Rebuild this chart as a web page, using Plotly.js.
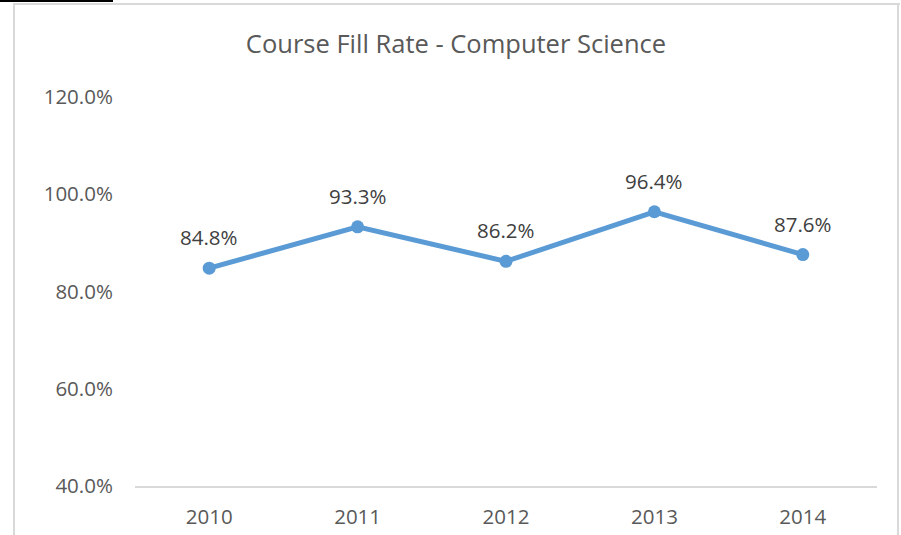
<!DOCTYPE html>
<html>
<head>
<meta charset="utf-8">
<script src="https://cdn.plot.ly/plotly-3.0.1.min.js"></script>
<style>
  html, body { margin: 0; padding: 0; background: #fff; }
  #wrap { position: relative; width: 901px; height: 535px; overflow: hidden; }
  #chart { position: absolute; left: 0; top: 0; width: 901px; height: 535px; }
  .ln { position: absolute; }
</style>
</head>
<body>
<div id="wrap">
  <div id="chart"></div>
  <div class="ln" style="left:0;top:0;width:113px;height:2px;background:#000;"></div>
  <div class="ln" style="left:13px;top:3px;width:2px;height:540px;background:#d9d9d9;"></div>
  <div class="ln" style="left:13px;top:3px;width:887px;height:2px;background:#d9d9d9;"></div>
  <div class="ln" style="left:897px;top:3px;width:2px;height:540px;background:#d9d9d9;"></div>
</div>
<script>
const years = ['2010', '2011', '2012', '2013', '2014'];
const fillRate = [84.8, 93.3, 86.2, 96.4, 87.6];
const yTicks = [40, 60, 80, 100, 120];
const yTickLabels = ['40.0%', '60.0%', '80.0%', '100.0%', '120.0%'];
const labels = fillRate.map(v => v.toFixed(1) + '%');

const FONT = '"Open Sans", Lato, sans-serif';

const trace = {
  x: years,
  y: fillRate,
  type: 'scatter',
  mode: 'lines+markers',
  line: { color: '#5b9bd5', width: 5 },
  marker: { color: '#5b9bd5', size: 13 },
  hoverinfo: 'none'
};

const annotations = years.map((yr, i) => ({
  x: i, y: fillRate[i], xref: 'x', yref: 'y',
  text: labels[i], showarrow: false, yshift: 31,
  font: { family: FONT, size: 20.5, color: '#404040' }
}));

const layout = {
  width: 901, height: 535,
  margin: { l: 135, r: 24, t: 97, b: 49 },
  paper_bgcolor: 'rgba(0,0,0,0)',
  plot_bgcolor: 'rgba(0,0,0,0)',
  showlegend: false,
  title: {
    text: 'Course Fill Rate - Computer Science',
    font: { family: FONT, size: 25.5, color: '#595959' },
    x: 456 / 901, xref: 'container', xanchor: 'center',
    y: 1 - 44 / 535, yref: 'container', yanchor: 'middle'
  },
  xaxis: {
    type: 'category',
    range: [-0.5, 4.5],
    showgrid: false, zeroline: false,
    showline: true, linecolor: '#d9d9d9', linewidth: 1.5,
    ticks: 'outside', ticklen: 12, tickcolor: 'rgba(0,0,0,0)',
    tickfont: { family: FONT, size: 20.5, color: '#595959' },
    fixedrange: true
  },
  yaxis: {
    range: [40, 120],
    tickvals: yTicks, ticktext: yTickLabels,
    showgrid: false, zeroline: false, showline: false,
    ticks: 'outside', ticklen: 17, tickcolor: 'rgba(0,0,0,0)',
    tickfont: { family: FONT, size: 20.5, color: '#595959' },
    fixedrange: true
  },
  annotations: annotations
};

Plotly.newPlot('chart', [trace], layout, { displayModeBar: false, staticPlot: true });
</script>
</body>
</html>
